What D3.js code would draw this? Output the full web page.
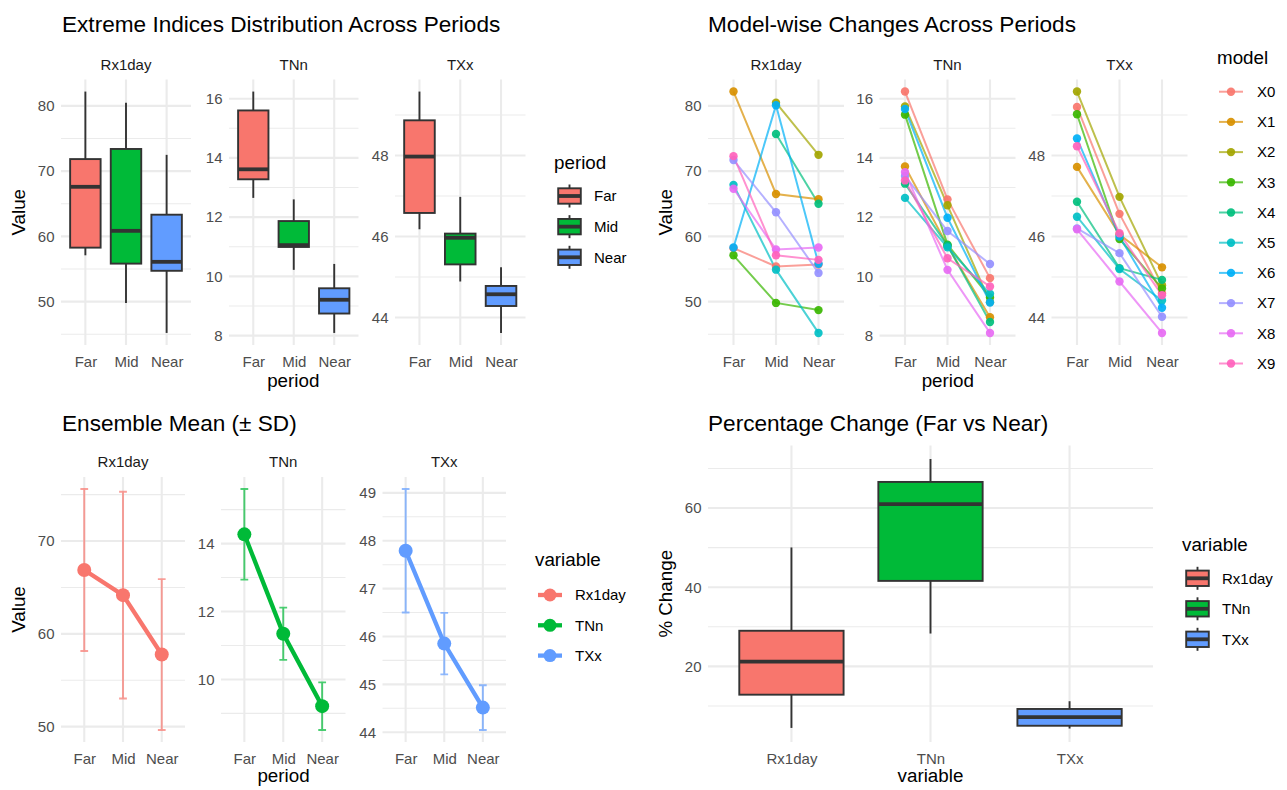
<!DOCTYPE html>
<html>
<head>
<meta charset="utf-8">
<script src="https://cdn.jsdelivr.net/npm/d3@7"></script>
<style>
  body { margin: 0; background: #ffffff; }
  svg text { font-family: "Liberation Sans", Arial, Helvetica, sans-serif; }
</style>
</head>
<body>
<svg id="chart" width="1287" height="790"></svg>
<script>
// ---------------- data ----------------
const periods = ["Far", "Mid", "Near"];
const variables = ["Rx1day", "TNn", "TXx"];
const models = ["X0", "X1", "X2", "X3", "X4", "X5", "X6", "X7", "X8", "X9"];

// Per-model index values, ordered like `models` (null = not available)
const rx1dayFar  = [58.2, 82.2, null, 57.1, null, 67.9, 58.3, 71.7, 67.3, 72.3];
const rx1dayMid  = [55.4, 66.5, 80.5, 49.8, 75.7, 54.9, 80.1, 63.7, 58.0, 57.1];
const rx1dayNear = [55.7, 65.7, 72.5, 48.7, 65.0, 45.2, 55.8, 54.4, 58.3, 56.4];

const tnnFar  = [16.24, 13.71, 15.74, 15.46, 13.13, 12.65, 15.65, 13.39, 13.52, 13.24];
const tnnMid  = [12.60, 11.03, 12.40, 11.07, 11.04, 10.98, 11.98, 11.53, 10.22, 10.61];
const tnnNear = [9.94, 8.62, 9.13, 9.29, 8.46, 9.41, 9.12, 10.42, 8.09, 9.66];

const txxFar  = [49.20, 47.72, 49.58, 49.02, 46.86, 46.49, 48.42, 46.20, 46.18, 48.23];
const txxMid  = [46.56, 46.05, 46.98, 45.94, 45.22, 45.20, 46.00, 45.59, 44.89, 46.08];
const txxNear = [44.60, 45.24, 44.80, 44.72, 44.93, 44.42, 44.24, 44.02, 43.62, 44.55];

// Percentage change (Far vs Near): lower whisker, Q1, median, Q3, upper whisker
const pctRx1day = [4.45, 12.85, 21.2, 29.0, 50.05];
const pctTNn    = [28.3, 41.6, 61.0, 66.6, 72.4];
const pctTXx    = [4.3, 5.0, 7.2, 9.24, 11.2];

// Axis breaks
const ticksRx1day = [50, 60, 70, 80];
const ticksTNn = [8, 10, 12, 14, 16];
const ticksTXx = [44, 46, 48];
const meanTicksRx1day = [50, 60, 70];
const meanTicksTNn = [10, 12, 14];
const meanTicksTXx = [44, 45, 46, 47, 48, 49];
const pctTicks = [20, 40, 60];

// Palettes
const periodColors = ["#F8766D", "#00BA38", "#619CFF"];
const variableColors = ["#F8766D", "#00BA38", "#619CFF"];
const modelColors = ["#F8766D", "#D89000", "#A3A500", "#39B600", "#00BF7D",
                     "#00BFC4", "#00B0F6", "#9590FF", "#E76BF3", "#FF62BC"];

// ---------------- assembled tables ----------------
const values = {
  Rx1day: { Far: rx1dayFar, Mid: rx1dayMid, Near: rx1dayNear },
  TNn:    { Far: tnnFar,    Mid: tnnMid,    Near: tnnNear },
  TXx:    { Far: txxFar,    Mid: txxMid,    Near: txxNear }
};
const boxTicks = { Rx1day: ticksRx1day, TNn: ticksTNn, TXx: ticksTXx };
const meanTicks = { Rx1day: meanTicksRx1day, TNn: meanTicksTNn, TXx: meanTicksTXx };
const pctStats = { Rx1day: pctRx1day, TNn: pctTNn, TXx: pctTXx };
const periodColor = d3.scaleOrdinal().domain(periods).range(periodColors);
const variableColor = d3.scaleOrdinal().domain(variables).range(variableColors);
const modelColor = d3.scaleOrdinal().domain(models).range(modelColors);

// ---------------- layout ----------------
const svg = d3.select("#chart");
const GRID = "#EBEBEB";
const OUTLINE = "#333333";
const FS = { title: 22.6, axisTitle: 18.8, tick: 15, strip: 15, legendTitle: 18.8, legendText: 15 };

const rowTop = { y0: 79.5, y1: 345, title: 32, strip: 70, xlab: 386.5 };
const rowBottom = { y0: 477, y1: 742, title: 431, strip: 467, xlab: 782 };
const rowPct = { y0: 445.5, y1: 742, title: 431, strip: null, xlab: 782 };
const p1X = [[61, 191], [229, 358.5], [395, 525.5]];
const p2X = [[708, 844], [879.5, 1015.5], [1051.5, 1187.5]];
const p3X = [[61, 185], [221, 345.5], [382.5, 506]];
const p4X = [708, 1153];

function expand(lo, hi) { const d = (hi - lo) * 0.05; return [lo - d, hi + d]; }

function minorBreaks(majors, domain) {
  const step = majors[1] - majors[0];
  const out = [];
  for (let v = majors[0] - step / 2; v <= majors[majors.length - 1] + step / 2 + 1e-9; v += step) {
    if (v >= domain[0] && v <= domain[1]) out.push(v);
  }
  return out;
}

function boxStats(vals) {
  const s = vals.filter(v => v != null).sort(d3.ascending);
  const q1 = d3.quantileSorted(s, 0.25), med = d3.quantileSorted(s, 0.5), q3 = d3.quantileSorted(s, 0.75);
  const iqr = q3 - q1, lo = q1 - 1.5 * iqr, hi = q3 + 1.5 * iqr;
  const inside = s.filter(v => v >= lo && v <= hi);
  return { lower: d3.min(inside), q1, med, q3, upper: d3.max(inside), outliers: s.filter(v => v < lo || v > hi) };
}

// One facet panel: grid, axes, strip label. Returns its scales.
function facet(g, cats, xr, row, domain, majors, strip) {
  const x = d3.scalePoint().domain(cats).range(xr).padding(0.6);
  const y = d3.scaleLinear().domain(domain).range([row.y1, row.y0]);
  const grid = g.append("g");
  grid.selectAll("line.minor").data(minorBreaks(majors, domain)).join("line")
    .attr("x1", xr[0]).attr("x2", xr[1]).attr("y1", d => y(d)).attr("y2", d => y(d))
    .attr("stroke", GRID).attr("stroke-width", 1.1);
  grid.selectAll("line.major").data(majors).join("line")
    .attr("x1", xr[0]).attr("x2", xr[1]).attr("y1", d => y(d)).attr("y2", d => y(d))
    .attr("stroke", GRID).attr("stroke-width", 2.1);
  grid.selectAll("line.vert").data(cats).join("line")
    .attr("x1", d => x(d)).attr("x2", d => x(d)).attr("y1", row.y0).attr("y2", row.y1)
    .attr("stroke", GRID).attr("stroke-width", 2.1);

  const ya = g.append("g").attr("transform", `translate(${xr[0]},0)`)
    .call(d3.axisLeft(y).tickValues(majors).tickSize(0).tickPadding(6.5).tickFormat(d3.format("d")));
  const xa = g.append("g").attr("transform", `translate(0,${row.y1})`)
    .call(d3.axisBottom(x).tickSize(0).tickPadding(10.9));
  [ya, xa].forEach(a => {
    a.select(".domain").remove();
    a.selectAll("text").attr("fill", "#4D4D4D").style("font-size", FS.tick + "px")
      .style("font-family", '"Liberation Sans", Arial, sans-serif');
  });
  if (strip) {
    g.append("text").attr("x", (xr[0] + xr[1]) / 2).attr("y", row.strip)
      .attr("text-anchor", "middle").attr("fill", "#1A1A1A").style("font-size", FS.strip + "px").text(strip);
  }
  return { x, y };
}

function drawBox(g, cx, half, s, y, fill) {
  g.append("line").attr("x1", cx).attr("x2", cx).attr("y1", y(s.upper)).attr("y2", y(s.q3))
    .attr("stroke", OUTLINE).attr("stroke-width", 1.9);
  g.append("line").attr("x1", cx).attr("x2", cx).attr("y1", y(s.q1)).attr("y2", y(s.lower))
    .attr("stroke", OUTLINE).attr("stroke-width", 1.9);
  g.append("rect").attr("x", cx - half).attr("width", 2 * half)
    .attr("y", y(s.q3)).attr("height", y(s.q1) - y(s.q3))
    .attr("fill", fill).attr("stroke", OUTLINE).attr("stroke-width", 1.9);
  g.append("line").attr("x1", cx - half).attr("x2", cx + half).attr("y1", y(s.med)).attr("y2", y(s.med))
    .attr("stroke", OUTLINE).attr("stroke-width", 3.8);
  (s.outliers || []).forEach(o => g.append("circle").attr("cx", cx).attr("cy", y(o)).attr("r", 2.6).attr("fill", OUTLINE));
}

function title(text, x, yb) {
  svg.append("text").attr("x", x).attr("y", yb).attr("fill", "#000").style("font-size", FS.title + "px").text(text);
}
function xTitle(text, cx, yb) {
  svg.append("text").attr("x", cx).attr("y", yb).attr("text-anchor", "middle").attr("fill", "#000")
    .style("font-size", FS.axisTitle + "px").text(text);
}
function yTitle(text, xb, cy) {
  svg.append("text").attr("transform", `translate(${xb},${cy}) rotate(-90)`).attr("text-anchor", "middle")
    .attr("fill", "#000").style("font-size", FS.axisTitle + "px").text(text);
}
function legendTitle(text, x, yb) {
  svg.append("text").attr("x", x).attr("y", yb).attr("fill", "#000").style("font-size", FS.legendTitle + "px").text(text);
}
function legendLabel(text, x, cy) {
  svg.append("text").attr("x", x).attr("y", cy).attr("dy", "0.35em").attr("fill", "#000")
    .style("font-size", FS.legendText + "px").text(text);
}

// ---------------- 1. Extreme indices distribution ----------------
title("Extreme Indices Distribution Across Periods", 62, rowTop.title);
variables.forEach((v, i) => {
  const g = svg.append("g");
  const stats = periods.map(p => boxStats(values[v][p]));
  const lo = d3.min(stats, s => Math.min(s.lower, ...s.outliers));
  const hi = d3.max(stats, s => Math.max(s.upper, ...s.outliers));
  const { x, y } = facet(g, periods, p1X[i], rowTop, expand(lo, hi), boxTicks[v], v);
  const half = x.step() * 0.375;
  periods.forEach((p, j) => drawBox(g, x(p), half, stats[j], y, periodColor(p)));
});
xTitle("period", (p1X[0][0] + p1X[2][1]) / 2, rowTop.xlab);
yTitle("Value", 25, (rowTop.y0 + rowTop.y1) / 2);
legendTitle("period", 554, 169);
periods.forEach((p, i) => {
  const cy = 196 + i * 30.65, cx = 569.5;
  const g = svg.append("g");
  drawBox(g, cx, 11.3, { lower: cy + 11.5, q1: cy + 7.7, med: cy, q3: cy - 7.7, upper: cy - 11.5 }, d => d, periodColor(p));
  legendLabel(p, 594, cy);
});

// ---------------- 2. Model-wise changes ----------------
title("Model-wise Changes Across Periods", 708, rowTop.title);
variables.forEach((v, i) => {
  const g = svg.append("g");
  const all = periods.flatMap(p => values[v][p]).filter(d => d != null);
  const { x, y } = facet(g, periods, p2X[i], rowTop, expand(d3.min(all), d3.max(all)), boxTicks[v], v);
  const series = models.map((m, k) => ({ m, pts: periods.map(p => ({ p, v: values[v][p][k] })) }));
  const line = d3.line().defined(d => d.v != null).x(d => x(d.p)).y(d => y(d.v));
  g.append("g").selectAll("path").data(series).join("path")
    .attr("d", s => line(s.pts)).attr("fill", "none")
    .attr("stroke", s => modelColor(s.m)).attr("stroke-width", 2).attr("stroke-opacity", 0.7);
  const pts = series.flatMap(s => s.pts.filter(d => d.v != null).map(d => ({ m: s.m, ...d })));
  g.append("g").selectAll("circle").data(pts).join("circle")
    .attr("cx", d => x(d.p)).attr("cy", d => y(d.v)).attr("r", 4.2)
    .attr("fill", d => modelColor(d.m)).attr("fill-opacity", 0.92);
});
xTitle("period", (p2X[0][0] + p2X[2][1]) / 2, rowTop.xlab);
yTitle("Value", 672, (rowTop.y0 + rowTop.y1) / 2);
legendTitle("model", 1217, 64);
models.forEach((m, i) => {
  const cy = 91.7 + i * 30.2;
  svg.append("line").attr("x1", 1219).attr("x2", 1243).attr("y1", cy).attr("y2", cy)
    .attr("stroke", modelColor(m)).attr("stroke-width", 2).attr("stroke-opacity", 0.7);
  svg.append("circle").attr("cx", 1231).attr("cy", cy).attr("r", 4.2).attr("fill", modelColor(m)).attr("fill-opacity", 0.92);
  legendLabel(m, 1257, cy);
});

// ---------------- 3. Ensemble mean (± SD) ----------------
title("Ensemble Mean (\u00B1 SD)", 62, rowBottom.title);
variables.forEach((v, i) => {
  const g = svg.append("g");
  const summ = periods.map(p => {
    const vals = values[v][p].filter(d => d != null);
    return { p, mean: d3.mean(vals), sd: d3.deviation(vals) };
  });
  const lo = d3.min(summ, d => d.mean - d.sd), hi = d3.max(summ, d => d.mean + d.sd);
  const { x, y } = facet(g, periods, p3X[i], rowBottom, expand(lo, hi), meanTicks[v], v);
  const col = variableColor(v), cap = x.step() * 0.1;
  const eb = g.append("g").attr("stroke", col).attr("stroke-width", 1.9).attr("stroke-opacity", 0.7).attr("fill", "none");
  summ.forEach(d => {
    const cx = x(d.p), yt = y(d.mean + d.sd), yb = y(d.mean - d.sd);
    eb.append("path").attr("d", `M${cx - cap},${yt}H${cx + cap}M${cx},${yt}V${yb}M${cx - cap},${yb}H${cx + cap}`);
  });
  g.append("path").attr("d", d3.line().x(d => x(d.p)).y(d => y(d.mean))(summ))
    .attr("fill", "none").attr("stroke", col).attr("stroke-width", 4.3);
  g.append("g").selectAll("circle").data(summ).join("circle")
    .attr("cx", d => x(d.p)).attr("cy", d => y(d.mean)).attr("r", 7).attr("fill", col);
});
xTitle("period", (p3X[0][0] + p3X[2][1]) / 2, rowBottom.xlab);
yTitle("Value", 25, (rowBottom.y0 + rowBottom.y1) / 2);
legendTitle("variable", 535, 566);
variables.forEach((v, i) => {
  const cy = 595 + i * 30.3;
  svg.append("line").attr("x1", 538).attr("x2", 562).attr("y1", cy).attr("y2", cy)
    .attr("stroke", variableColor(v)).attr("stroke-width", 4.3);
  svg.append("circle").attr("cx", 550).attr("cy", cy).attr("r", 6.5).attr("fill", variableColor(v));
  legendLabel(v, 575, cy);
});

// ---------------- 4. Percentage change ----------------
title("Percentage Change (Far vs Near)", 708, rowPct.title);
{
  const g = svg.append("g");
  const lo = d3.min(variables, v => pctStats[v][0]), hi = d3.max(variables, v => pctStats[v][4]);
  const { x, y } = facet(g, variables, p4X, rowPct, expand(lo, hi), pctTicks, null);
  const half = x.step() * 0.375;
  variables.forEach(v => {
    const s = pctStats[v];
    drawBox(g, x(v), half, { lower: s[0], q1: s[1], med: s[2], q3: s[3], upper: s[4] }, y, variableColor(v));
  });
}
xTitle("variable", (p4X[0] + p4X[1]) / 2, rowPct.xlab);
yTitle("% Change", 672, (rowPct.y0 + rowPct.y1) / 2);
legendTitle("variable", 1182, 551);
variables.forEach((v, i) => {
  const cy = 578.3 + i * 30.5, cx = 1197.5;
  const g = svg.append("g");
  drawBox(g, cx, 11.3, { lower: cy + 11.5, q1: cy + 7.7, med: cy, q3: cy - 7.7, upper: cy - 11.5 }, d => d, variableColor(v));
  legendLabel(v, 1222, cy);
});
</script>
</body>
</html>
